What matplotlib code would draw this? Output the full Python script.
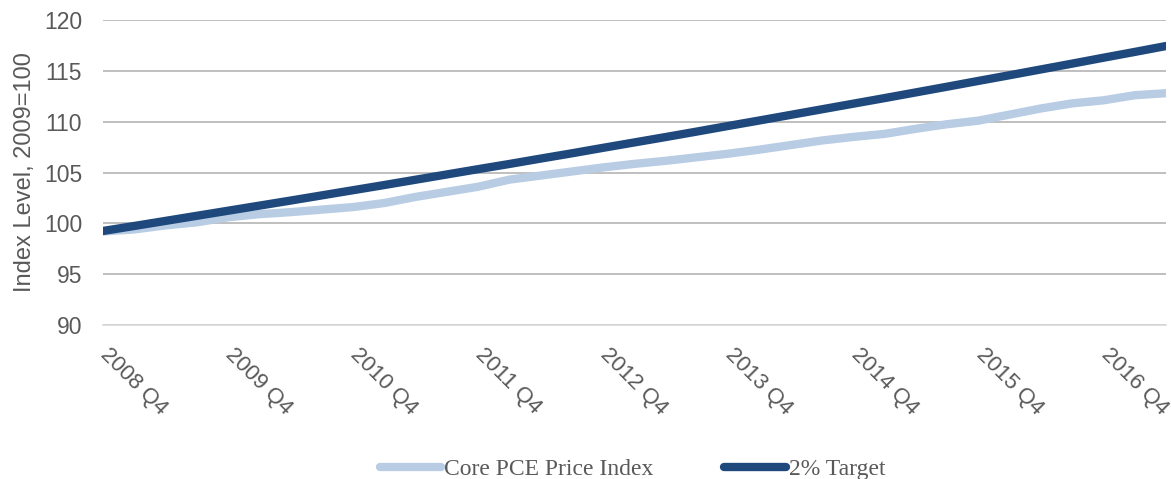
import numpy as np
import matplotlib.pyplot as plt
from matplotlib.transforms import ScaledTranslation

# quarterly, 2008 Q4 .. 2017 Q2
quarters = ['2008 Q4', '2009 Q1', '2009 Q2', '2009 Q3', '2009 Q4',
            '2010 Q1', '2010 Q2', '2010 Q3', '2010 Q4',
            '2011 Q1', '2011 Q2', '2011 Q3', '2011 Q4',
            '2012 Q1', '2012 Q2', '2012 Q3', '2012 Q4',
            '2013 Q1', '2013 Q2', '2013 Q3', '2013 Q4',
            '2014 Q1', '2014 Q2', '2014 Q3', '2014 Q4',
            '2015 Q1', '2015 Q2', '2015 Q3', '2015 Q4',
            '2016 Q1', '2016 Q2', '2016 Q3', '2016 Q4',
            '2017 Q1', '2017 Q2']

core_pce = [99.2, 99.4, 99.8, 100.1, 100.6,
            100.9, 101.1, 101.35, 101.6,
            102.0, 102.6, 103.1, 103.6,
            104.3, 104.7, 105.1, 105.5,
            105.85, 106.15, 106.5, 106.85,
            107.25, 107.7, 108.15, 108.5,
            108.8, 109.3, 109.75, 110.1,
            110.7, 111.3, 111.8, 112.1,
            112.6, 112.8]

target = [99.25, 99.74, 100.24, 100.74, 101.24,
          101.74, 102.24, 102.75, 103.26,
          103.77, 104.29, 104.81, 105.33,
          105.84, 106.37, 106.89, 107.43,
          107.96, 108.49, 109.03, 109.58,
          110.12, 110.67, 111.22, 111.77,
          112.32, 112.88, 113.44, 114.01,
          114.57, 115.14, 115.71, 116.29,
          116.86, 117.44]

yticks = [90, 95, 100, 105, 110, 115, 120]

txt = '#595959'
plt.rcParams['font.family'] = ['Liberation Sans', 'DejaVu Sans']

fig = plt.figure(figsize=(11.71, 4.79), dpi=100)
ax = fig.add_axes([103 / 1171, 1 - 325 / 479, (1166 - 103) / 1171, (325 - 20) / 479])

x = np.arange(len(quarters))
ax.plot(x, core_pce, color='#B8CCE4', lw=6, solid_capstyle='round', label='Core PCE Price Index')
ax.plot(x, target, color='#1F497D', lw=6, solid_capstyle='round', label='2% Target')

ax.set_xlim(0, len(quarters) - 1)
ax.set_ylim(90, 120)
ax.set_yticks(yticks)
ax.grid(axis='y', color='#B4B4B4', lw=1.2)
ax.set_axisbelow(True)
for s in ['top', 'right', 'left']:
    ax.spines[s].set_visible(False)
ax.spines['bottom'].set_color('#D9D9D9')
ax.spines['bottom'].set_linewidth(1.2)

ax.tick_params(axis='y', length=0, pad=15, labelsize=16.5, labelcolor=txt)
ax.set_xticks(x[::4])
ax.set_xticklabels(quarters[::4])
ax.tick_params(axis='x', length=0, pad=14, labelsize=16, labelcolor=txt)
shift = ScaledTranslation(8 / 100, 0, fig.dpi_scale_trans)
for lab in ax.get_xticklabels():
    lab.set_rotation(-45)
    lab.set_rotation_mode('anchor')
    lab.set_ha('left')
    lab.set_va('top')
    lab.set_transform(lab.get_transform() + shift)

ax.set_ylabel('Index Level, 2009=100', fontsize=17, color=txt, labelpad=6)

fig.legend(loc='center', bbox_to_anchor=(0.54, 0.02), ncol=2, frameon=False,
           prop={'family': 'Liberation Serif', 'size': 17}, labelcolor=txt,
           handlelength=2.6, handletextpad=0.13, columnspacing=3.0)

fig.savefig('out.png', dpi=100)
